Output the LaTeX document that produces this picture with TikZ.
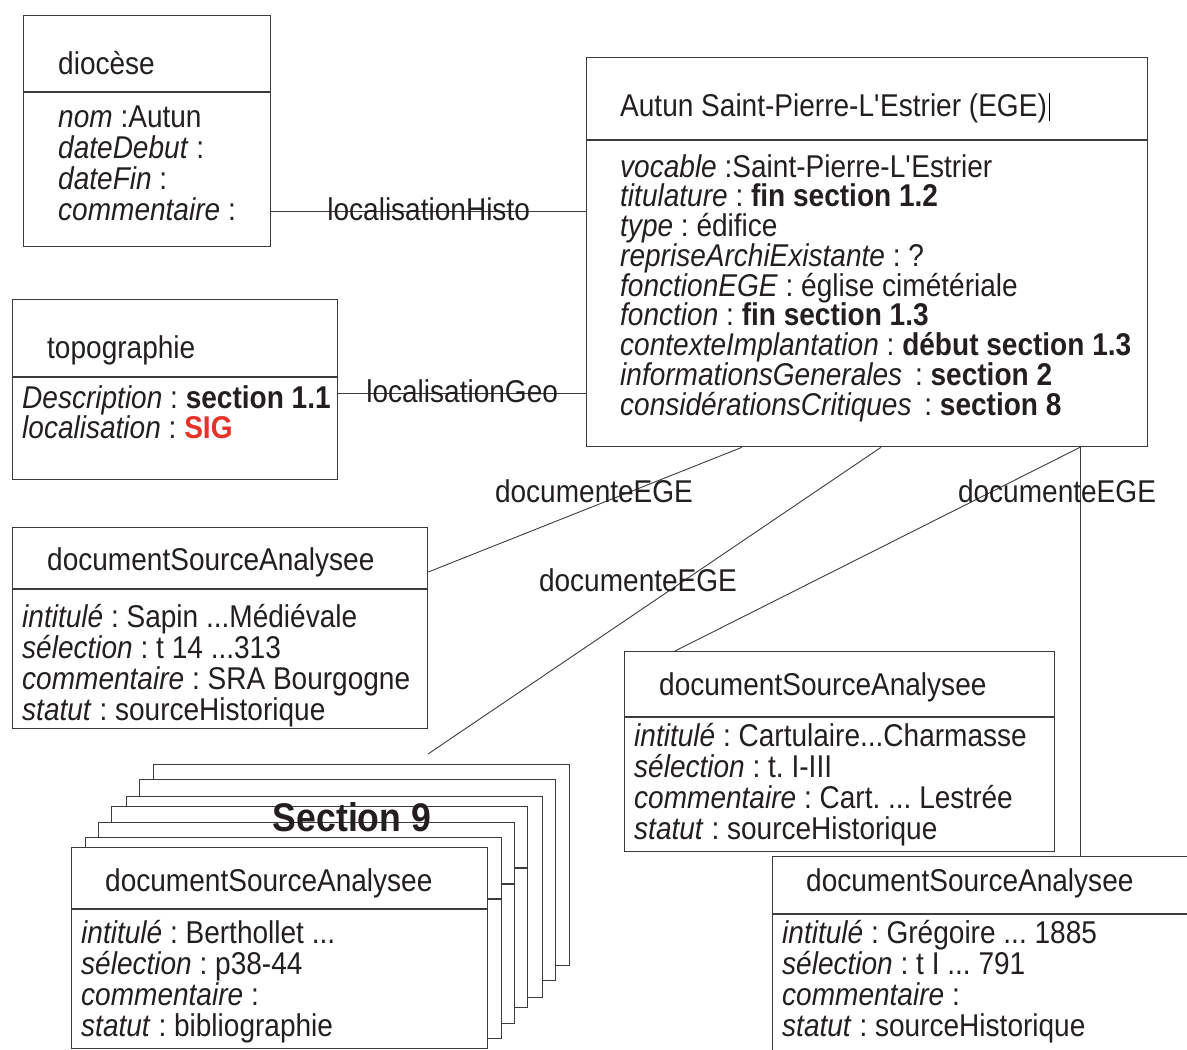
\documentclass[tikz,border=0pt]{standalone}
\usepackage{fontspec}
\setmainfont{Liberation Sans}[FakeStretch=0.89]
\definecolor{linegray}{HTML}{3C3C3C}
\definecolor{inkblack}{HTML}{231F20}
\definecolor{sigred}{HTML}{E5332A}
\newcommand{\dotsthree}{...}
\frenchspacing
\begin{document}
\begin{tikzpicture}[x=1pt,y=-1pt,
  font=\fontsize{31.5}{32}\selectfont,text=inkblack,
  umlbox/.style={draw=linegray,line width=1.3pt,fill=white,inner sep=0pt,anchor=north west},
  divline/.style={draw=linegray,line width=1.3pt},
  txt/.style={anchor=base west,inner sep=0pt},
  assoc/.style={draw=linegray,line width=0.9pt},
  lbl/.style={anchor=base,inner sep=0pt}]
\useasboundingbox (0,0) rectangle (1187,1050);
\node[umlbox,minimum width=247pt,minimum height=231pt] (dio) at (23,15) {};
\draw[divline] (dio.west |- 0,92) -- (dio.east |- 0,92);
\node[txt] (dioT) at (58,74) {diocèse};
\foreach \t [count=\i from 0] in {{\textit{nom} :Autun},{\textit{dateDebut} :},{\textit{dateFin} :},{\textit{commentaire} :}}
  \node[txt] (dioA\i) at (58,127+31*\i) {\t};
\node[umlbox,minimum width=561pt,minimum height=389pt] (ege) at (586,57) {};
\draw[divline] (ege.west |- 0,140) -- (ege.east |- 0,140);
\node[txt] (egeT) at (620,116) {Autun Saint-Pierre-L\textquotesingle Estrier (EGE)};
\draw[line width=0.6pt] ([xshift=2pt,yshift=-5pt]egeT.base east) -- ++(0,-28);
\foreach \t [count=\i from 0] in {{\textit{vocable} :Saint-Pierre-L\textquotesingle Estrier},
  {\textit{titulature} : \textbf{fin section 1.2}},{\textit{type} : édifice},
  {\textit{repriseArchiExistante} : ?},{\textit{fonctionEGE} : église cimétériale},
  {\textit{fonction} : \textbf{fin section 1.3}},
  {\textit{contexteImplantation} : \textbf{début section 1.3}},
  {\textit{informationsGenerales}\hspace{5pt} : \textbf{section 2}},
  {\textit{considérationsCritiques}\hspace{5pt} : \textbf{section 8}}}
  \node[txt] (egeA\i) at (620,177+29.75*\i) {\t};
\node[umlbox,minimum width=325pt,minimum height=180pt] (topo) at (12,299) {};
\draw[divline] (topo.west |- 0,377) -- (topo.east |- 0,377);
\node[txt] (topoT) at (47,358) {topographie};
\node[txt] (topoA0) at (22,408) {\textit{Description} : \textbf{section 1.1}};
\node[txt] (topoA1) at (22,438) {\textit{localisation} : \textcolor{sigred}{\textbf{SIG}}};
\node[umlbox,minimum width=415pt,minimum height=201pt] (doc1) at (12,527) {};
\draw[divline] (doc1.west |- 0,589) -- (doc1.east |- 0,589);
\node[txt] (doc1T) at (47,570) {documentSourceAnalysee};
\foreach \t [count=\i from 0] in {{\textit{intitulé} : Sapin \dotsthree Médiévale},{\textit{sélection} : t 14 \dotsthree 313},
  {\textit{commentaire} : SRA Bourgogne},{\textit{statut} : sourceHistorique}}
  \node[txt] (doc1A\i) at (22,627+31.3*\i) {\t};
\node[umlbox,minimum width=430pt,minimum height=200pt] (doc2) at (624,651) {};
\draw[divline] (doc2.west |- 0,717) -- (doc2.east |- 0,717);
\node[txt] (doc2T) at (659,695) {documentSourceAnalysee};
\foreach \t [count=\i from 0] in {{\textit{intitulé} : Cartulaire\dotsthree Charmasse},{\textit{sélection} : t. I-III},
  {\textit{commentaire} : Cart. \dotsthree{} Lestrée},{\textit{statut} : sourceHistorique}}
  \node[txt] (doc2A\i) at (634,746+31.3*\i) {\t};
\node[umlbox,minimum width=430pt,minimum height=204pt] (doc3) at (772,856) {};
\draw[divline] (doc3.west |- 0,914) -- (doc3.east |- 0,914);
\node[txt] (doc3T) at (806,891) {documentSourceAnalysee};
\foreach \t [count=\i from 0] in {{\textit{intitulé} : Grégoire \dotsthree{} 1885},{\textit{sélection} : t I \dotsthree{} 791},
  {\textit{commentaire} :},{\textit{statut} : sourceHistorique}}
  \node[txt] (doc3A\i) at (782,943+31.3*\i) {\t};
\foreach \dx/\dy/\dv in {82/-83/0,68/-68/0,55/-51/0,40/-41/1,27/-25/1,14/-10/1}{
  \node[umlbox,minimum width=416pt,minimum height=201pt] (lay\dx) at (71+\dx,847+\dy) {};
  \draw[divline,draw opacity=\dv] (71+\dx,909+\dy) -- (487+\dx,909+\dy);
}
\node[font=\bfseries\fontsize{40}{40}\selectfont,inner sep=0pt] (sec9) at (352,817) {Section 9};
\node[umlbox,minimum width=416pt,minimum height=201pt] (doc4) at (71,847) {};
\draw[divline] (doc4.west |- 0,909) -- (doc4.east |- 0,909);
\node[txt] (doc4T) at (105,891) {documentSourceAnalysee};
\foreach \t [count=\i from 0] in {{\textit{intitulé} : Berthollet \dotsthree},{\textit{sélection} : p38-44},
  {\textit{commentaire} :},{\textit{statut} : bibliographie}}
  \node[txt] (doc4A\i) at (81,943+31.3*\i) {\t};
\coordinate (stk) at (428,754);
\draw[assoc] (dio.east |- 0,211) -- (ege.west |- 0,211) node[lbl,midway,yshift=-9pt] (lh) {localisationHisto};
\draw[assoc] (topo.east |- 0,393) -- (ege.west |- 0,393) node[lbl,midway,yshift=-9pt] (lg) {localisationGeo};
\draw[assoc] ([xshift=156pt]ege.south west) -- ([yshift=-45pt]doc1.north east);
\draw[assoc] ([xshift=295pt]ege.south west) -- (stk);
\draw[assoc] ([xshift=494pt]ege.south west) -- ([xshift=51pt]doc2.north west);
\draw[assoc] ([xshift=494pt]ege.south west) -- ([xshift=308pt]doc3.north west);
\node[lbl] (d1) at (594,502) {documenteEGE};
\node[lbl] (d2) at (638,591) {documenteEGE};
\node[lbl] (d3) at (1057,502) {documenteEGE};
\end{tikzpicture}
\end{document}
